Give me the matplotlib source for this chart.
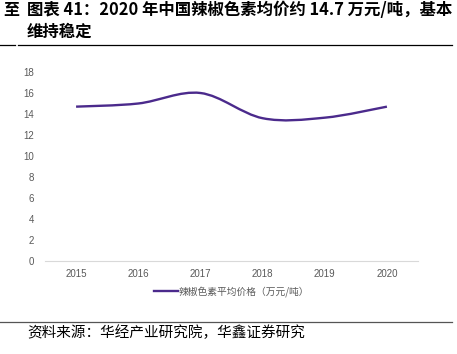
import numpy as np
import matplotlib
matplotlib.use("Agg")
import matplotlib.pyplot as plt
from matplotlib.path import Path
from matplotlib.patches import PathPatch
from matplotlib.lines import Line2D

plt.rcParams["font.family"] = ["Noto Sans CJK SC", "DejaVu Sans"]

years = ["2015", "2016", "2017", "2018", "2019", "2020"]
prices = [14.7, 15.0, 16.0, 13.6, 13.65, 14.7]
y_ticks = [0, 2, 4, 6, 8, 10, 12, 14, 16, 18]
series_name = "辣椒色素平均价格（万元/吨）"
title_1 = "图表 41：2020 年中国辣椒色素均价约 14.7 万元/吨，基本"
title_2 = "维持稳定"
source = "资料来源：华经产业研究院，华鑫证券研究"

color = "#4b2a8c"
gray = "#595959"

fig = plt.figure(figsize=(4.57, 3.54), dpi=100)
ax = fig.add_axes([45 / 457, 1 - 261 / 354, 373 / 457, 189 / 354])

# smooth line (Catmull-Rom -> cubic Bezier, like Excel's smoothed line)
x = np.arange(len(prices), dtype=float)
y = np.array(prices, dtype=float)
verts = [(x[0], y[0])]
codes = [Path.MOVETO]
for i in range(len(x) - 1):
    p0 = (x[max(i - 1, 0)], y[max(i - 1, 0)])
    p1 = (x[i], y[i])
    p2 = (x[i + 1], y[i + 1])
    p3 = (x[min(i + 2, len(x) - 1)], y[min(i + 2, len(x) - 1)])
    c1 = (p1[0] + (p2[0] - p0[0]) / 6, p1[1] + (p2[1] - p0[1]) / 6)
    c2 = (p2[0] - (p3[0] - p1[0]) / 6, p2[1] - (p3[1] - p1[1]) / 6)
    verts += [c1, c2, p2]
    codes += [Path.CURVE4] * 3
ax.add_patch(PathPatch(Path(verts, codes), facecolor="none", edgecolor=color,
                       lw=1.7, capstyle="butt"))

ax.set_xlim(-0.5, len(years) - 0.5)
ax.set_ylim(0, 18)
ax.set_xticks(x)
ax.set_xticklabels(years)
ax.set_yticks(y_ticks)
for s in ["top", "right", "left"]:
    ax.spines[s].set_visible(False)
ax.spines["bottom"].set_color("#d9d9d9")
ax.spines["bottom"].set_linewidth(0.8)
ax.tick_params(length=0, labelsize=7, labelcolor=gray, pad=6)
ax.tick_params(axis="y", pad=8)
for lab in ax.get_xticklabels() + ax.get_yticklabels():
    lab.set_family(["Liberation Sans", "DejaVu Sans"])

handle = Line2D([], [], color=color, lw=1.7)
ax.legend([handle], [series_name], loc="upper center", bbox_to_anchor=(0.5, -0.085),
          frameon=False, fontsize=7, handlelength=2.4, handletextpad=0.05,
          labelcolor=gray)

# title, rules, source
fig.text(3 / 457, 1 - 10 / 354, "至", fontsize=11.5, fontweight="bold", va="center")
fig.text(27 / 457, 1 - 10 / 354, title_1, fontsize=11.8, fontweight="bold", va="center")
fig.text(27 / 457, 1 - 32 / 354, title_2, fontsize=11.8, fontweight="bold", va="center")
fig.add_artist(Line2D([0, 15 / 457], [1 - 45 / 354] * 2, color="black", lw=0.9))
fig.add_artist(Line2D([18 / 457, 452 / 457], [1 - 45 / 354] * 2, color="black", lw=0.9))
fig.add_artist(Line2D([0, 452 / 457], [1 - 322 / 354] * 2, color="#555555", lw=0.9))
fig.text(27 / 457, 1 - 333 / 354, source, fontsize=10.5, va="center")

fig.savefig("out.png", dpi=100)
